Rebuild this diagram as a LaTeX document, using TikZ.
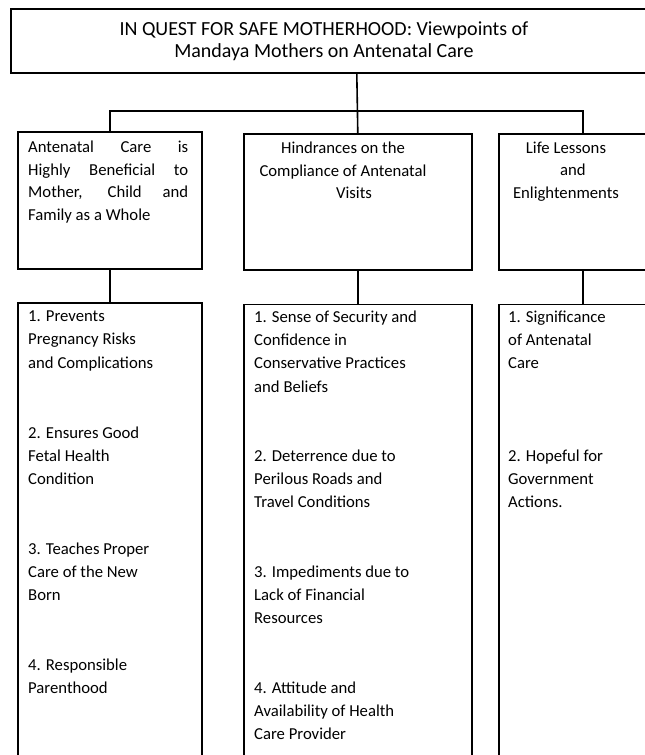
\documentclass[tikz,border=0pt]{standalone}
\usepackage{fontspec}
\setmainfont{Carlito}
\usetikzlibrary{positioning}
\tikzset{
  % outlined boxes of the chart
  chartbox/.style={draw,line width=1.6pt,anchor=north west,inner sep=0pt,
    minimum width=#1},
  toprow/.style={minimum height=136pt},
  listrow/.style={minimum height=470pt},
  % connectors between the boxes
  link/.style={line width=1.6pt},
  % texts inside the boxes, placed by the baseline of their first line
  headtext/.style={inner sep=0pt,anchor=north,yshift=15.4pt,align=center,
    font=\fontsize{20}{22}\selectfont,execute at begin node=\strut},
  themetext/.style={inner sep=0pt,yshift=15.75pt,
    font=\fontsize{16.7}{22.5}\selectfont,execute at begin node=\strut},
  itemtext/.style={inner sep=0pt,anchor=north west,yshift=16.24pt,align=left,
    font=\fontsize{16.7}{23.2}\selectfont,execute at begin node=\strut},
}
% stretch one line of a justified paragraph
\newcommand{\spreadline}[1]{\makebox[160pt][s]{#1}}

\begin{document}
\begin{tikzpicture}[x=1pt,y=-1pt]
  \useasboundingbox (0,0) rectangle (645,755);
  \clip (0,0) rectangle (645,755);

  % boxes
  \node[chartbox=692pt,minimum height=64pt] (title) at (10,8) {};
  \node[chartbox=184pt,toprow,minimum height=137pt] (benefit) at (17,131) {};
  \node[chartbox=228pt,toprow] (hindrance) at (243,133) {};
  \node[chartbox=168pt,toprow] (lesson) at (498,133) {};
  \node[chartbox=184pt,listrow] (benefitlist) at (17,302) {};
  \node[chartbox=228pt,listrow] (hindrancelist) at (243,303.5) {};
  \node[chartbox=168pt,listrow] (lessonlist) at (498,303.5) {};

  % connectors
  \coordinate (forkline) at (0,111);
  \coordinate (fork) at (title.south |- forkline);
  \draw[link] (title.south) -- (hindrance.north);
  \draw[link] (benefit.north) |- (fork) -| (lesson.north);
  \draw[link] (benefit.south) -- (benefitlist.north);
  \draw[link] (hindrance.south) -- (hindrancelist.north);
  \draw[link] (lesson.south) -- (lessonlist.north);

  % title
  \node[headtext] (titletext) at (324,36.5)
    {IN QUEST FOR SAFE MOTHERHOOD: Viewpoints of\\Mandaya Mothers on Antenatal Care};

  % themes
  \node[themetext,anchor=north west,align=left] (benefittext) at (28,156.5)
    {\spreadline{Antenatal Care is}\\\spreadline{Highly Beneficial to}\\
     \spreadline{Mother, Child and}\\Family as a Whole};
  \node[themetext,anchor=north,align=center] (hindrancetext) at (343,157.5)
    {Hindrances on the\\Compliance of Antenatal\\\hspace*{22pt}Visits};
  \node[themetext,anchor=north,align=center] (lessontext) at (566,157.5)
    {Life Lessons\\\hspace*{14pt}and\\Enlightenments};

  % items under each theme
  \node[itemtext] (b1) at (28,327) {1. Prevents\\Pregnancy Risks\\and Complications};
  \node[itemtext] (b2) at (28,443) {2. Ensures Good\\Fetal Health\\Condition};
  \node[itemtext] (b3) at (28,559) {3. Teaches Proper\\Care of the New\\Born};
  \node[itemtext] (b4) at (28,675) {4. Responsible\\Parenthood};

  \node[itemtext] (h1) at (254,327)
    {1. Sense of Security and\\Confidence in\\Conservative Practices\\and Beliefs};
  \node[itemtext] (h2) at (254,466) {2. Deterrence due to\\Perilous Roads and\\Travel Conditions};
  \node[itemtext] (h3) at (254,582) {3. Impediments due to\\Lack of Financial\\Resources};
  \node[itemtext] (h4) at (254,698) {4. Attitude and\\Availability of Health\\Care Provider};

  \node[itemtext] (l1) at (508,327) {1. Significance\\of Antenatal\\Care};
  \node[itemtext] (l2) at (508,466) {2. Hopeful for\\Government\\Actions.};
\end{tikzpicture}
\end{document}
